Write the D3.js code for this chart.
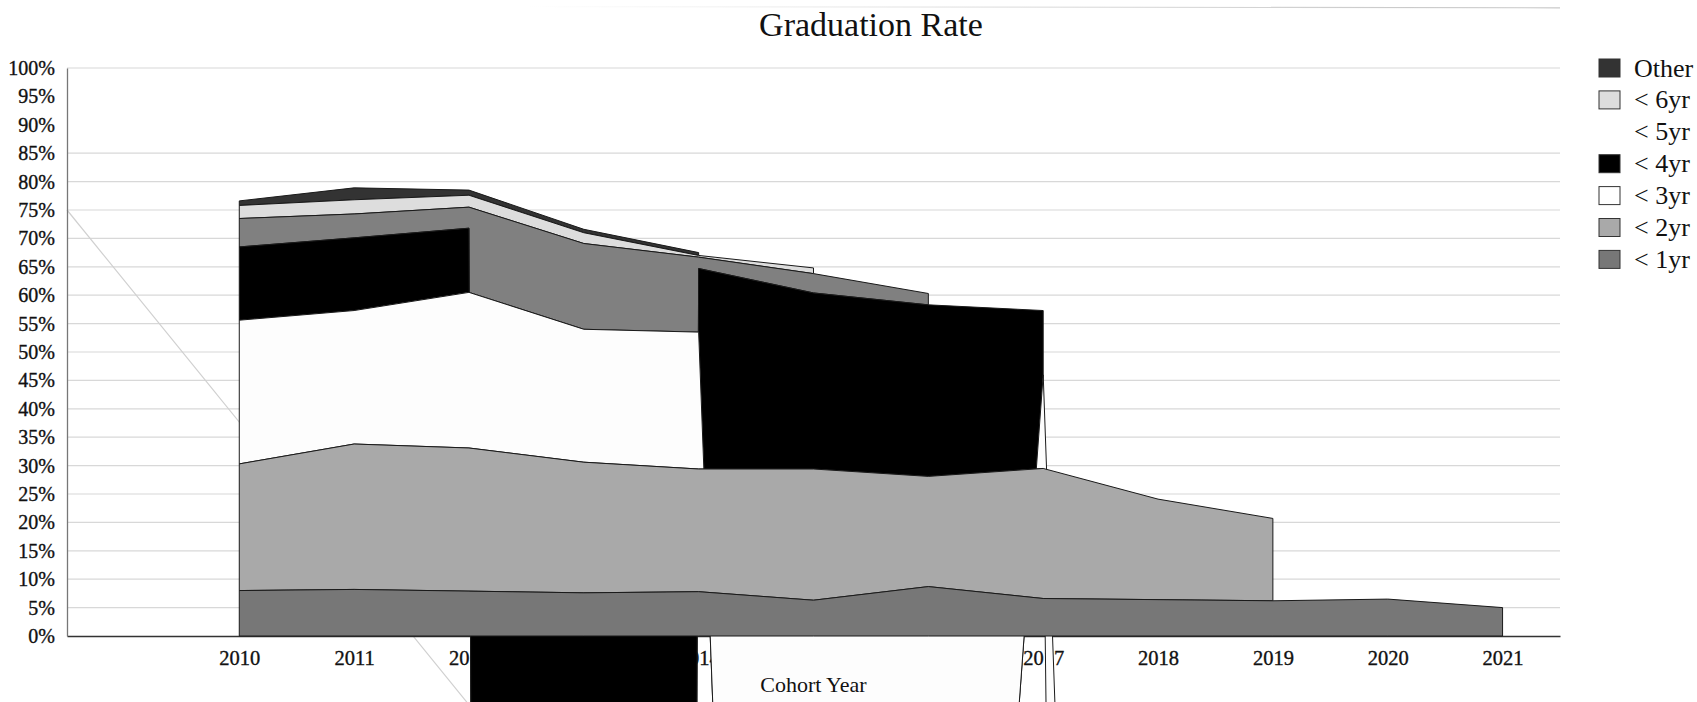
<!DOCTYPE html>
<html>
<head>
<meta charset="utf-8">
<script src="https://cdn.jsdelivr.net/npm/d3@7"></script>
<style>
  body { margin: 0; background: #fff; }
  svg { display: block; font-family: "Liberation Serif", serif; }
</style>
</head>
<body>
<svg id="chart" width="1697" height="702"></svg>
<script>
// cohort years and series
var years = [2010, 2011, 2012, 2013, 2014, 2015, 2016, 2017, 2018, 2019, 2020, 2021];
var seriesNames = ["< 1yr", "< 2yr", "< 3yr", "< 4yr", "< 5yr", "< 6yr", "Other"];

// cumulative graduation rate (%) by cohort
var within1 = [8.0, 8.2, 7.9, 7.6, 7.8, 6.3, 8.7, 6.6, 6.4, 6.2, 6.5, 5.0];
var within2 = [30.3, 33.8, 33.1, 30.6, 29.4, 29.4, 28.1, 29.5, 24.1, 20.7, null, null];
var within3 = [55.6, 57.3, 60.5, 54.0, 53.5, -478, -231, 46, -520, null, null, null];
var base3   = [30.3, 33.8, 33.1, 30.6, 29.4, 29.4, 28.1, 29.5, -1655, null, null, null];
var within4 = [68.5, 70.1, 71.8, -5000, 64.7, 60.4, 58.3, 57.3, null, null, null, null];
var within5 = [73.5, 74.3, 75.5, 69.1, 66.7, 63.8, 60.3, null, null, null, null, null];
var within6 = [75.8, 76.8, 77.6, 71.0, 67.0, 64.8, null, null, null, null, null, null];
var total   = [76.6, 78.9, 78.5, 71.6, 67.5, null, null, null, null, null, null, null];
var zeros   = [0, 0, 0, 0, 0, 0, 0, 0, 0, 0, 0, 0];

var yTicks = [0, 5, 10, 15, 20, 25, 30, 35, 40, 45, 50, 55, 60, 65, 70, 75, 80, 85, 90, 95, 100];
var gridValues = [5, 10, 15, 20, 25, 30, 35, 40, 45, 50, 55, 60, 65, 70, 75, 80, 85, 100];
// two grid lines that came out of place
var strayLines = [
  { x1: 2008.5, y1: 75, x2: 2013, y2: -37, fade: false },
  { x1: 2012.5, y1: 110.8, x2: 2021.5, y2: 110.6, fade: true }
];

var fills = ["#777777", "#a9a9a9", "#fdfdfd", "#000000", "#808080", "#dddddd", "#333333"];
var swatch = ["#777777", "#a9a9a9", "#ffffff", "#000000", "none", "#dddddd", "#333333"];
var highs = [within1, within2, within3, within4, within5, within6, total];
var lows = [zeros, within1, base3, within3, within4, within5, within6];

var svg = d3.select("#chart"),
    margin = { top: 68, right: 137, bottom: 66, left: 67 },
    width = +svg.attr("width") - margin.left - margin.right,
    height = +svg.attr("height") - margin.top - margin.bottom;

var x = d3.scaleLinear().domain([2008.5, 2021.5]).range([margin.left, margin.left + width]);
var y = d3.scaleLinear().domain([0, 100]).range([margin.top + height, margin.top]);

var defs = svg.append("defs");
var grad = defs.append("linearGradient")
    .attr("id", "fade")
    .attr("gradientUnits", "userSpaceOnUse")
    .attr("x1", x(2012.5)).attr("x2", x(2020.5))
    .attr("y1", 0).attr("y2", 0);
grad.append("stop").attr("offset", 0).attr("stop-color", "#c8c8c8").attr("stop-opacity", 0);
grad.append("stop").attr("offset", 1).attr("stop-color", "#c8c8c8").attr("stop-opacity", 1);

// grid
svg.append("g").selectAll("line")
  .data(gridValues)
  .enter().append("line")
    .attr("x1", x(2008.5)).attr("x2", x(2021.5))
    .attr("y1", function(d) { return y(d); })
    .attr("y2", function(d) { return y(d); })
    .attr("stroke", "#d8d8d8")
    .attr("stroke-width", 1.2);

svg.append("g").selectAll("line")
  .data(strayLines)
  .enter().append("line")
    .attr("x1", function(d) { return x(d.x1); })
    .attr("y1", function(d) { return y(d.y1); })
    .attr("x2", function(d) { return x(d.x2); })
    .attr("y2", function(d) { return y(d.y2); })
    .attr("stroke", function(d) { return d.fade ? "url(#fade)" : "#d0d0d0"; })
    .attr("stroke-width", 1.2);

// x axis (labels end up under the areas)
var xAxis = svg.append("g")
    .attr("transform", "translate(0," + (margin.top + height) + ")")
    .call(d3.axisBottom(x).tickValues(years).tickFormat(d3.format("d")).tickSize(0).tickPadding(14));
xAxis.select(".domain").attr("stroke", "#333").attr("stroke-width", 1.3);
xAxis.selectAll("text")
    .attr("font-family", "Liberation Serif").attr("font-size", 20.5)
    .attr("fill", "#111").attr("stroke", "#111").attr("stroke-width", 0.35);

// y axis
var yAxis = svg.append("g")
    .attr("transform", "translate(" + margin.left + ",0)")
    .call(d3.axisLeft(y).tickValues(yTicks).tickFormat(function(d) { return d + "%"; }).tickSize(0).tickPadding(12));
yAxis.select(".domain").attr("stroke", "#777").attr("stroke-width", 1.3);
yAxis.selectAll("text")
    .attr("font-family", "Liberation Serif").attr("font-size", 20)
    .attr("fill", "#111").attr("stroke", "#111").attr("stroke-width", 0.35);

// areas, top series first
var area = d3.area()
    .defined(function(d) { return d.hi != null; })
    .x(function(d) { return x(d.year); })
    .y0(function(d) { return y(d.lo); })
    .y1(function(d) { return y(d.hi); });

var layers = seriesNames.map(function(name, i) {
  return {
    name: name,
    fill: fills[i],
    values: years.map(function(yr, j) { return { year: yr, lo: lows[i][j], hi: highs[i][j] }; })
  };
});

svg.append("g").selectAll("path")
  .data(layers.slice().reverse())
  .enter().append("path")
    .attr("d", function(d) { return area(d.values); })
    .attr("fill", function(d) { return d.fill; })
    .attr("stroke", "#1a1a1a")
    .attr("stroke-width", 1);

// titles
svg.append("text")
    .attr("x", margin.left + width / 2)
    .attr("y", 692)
    .attr("text-anchor", "middle")
    .attr("font-size", 22)
    .attr("fill", "#111")
    .text("Cohort Year");

svg.append("text")
    .attr("x", 871)
    .attr("y", 36)
    .attr("text-anchor", "middle")
    .attr("font-size", 34)
    .attr("fill", "#111")
    .text("Graduation Rate");

// legend
var legend = svg.append("g").selectAll("g")
  .data(seriesNames.map(function(n, i) { return { name: n, sw: swatch[i] }; }).reverse())
  .enter().append("g")
    .attr("transform", function(d, i) { return "translate(1599," + (68 + i * 31.9) + ")"; });

legend.append("rect")
    .attr("x", 0).attr("y", -9)
    .attr("width", 21).attr("height", 18)
    .attr("fill", function(d) { return d.sw; })
    .attr("stroke", function(d) { return d.sw == "none" ? "none" : "#333"; });

legend.append("text")
    .attr("x", 35).attr("y", 8.5)
    .attr("font-size", 26)
    .attr("fill", "#111")
    .text(function(d) { return d.name; });
</script>
</body>
</html>
